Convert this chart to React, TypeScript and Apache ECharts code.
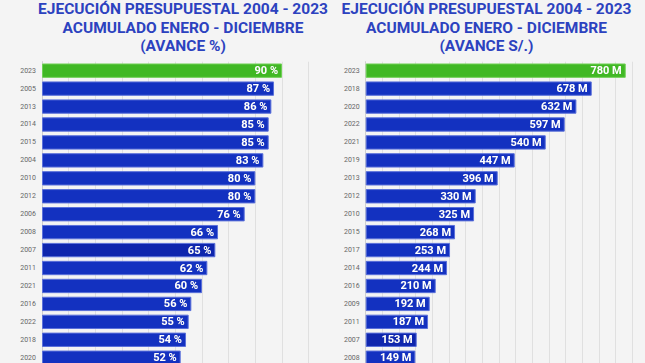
import React, { useEffect, useRef } from "react";
import * as echarts from "echarts";

const pctYears = ["2023", "2005", "2013", "2014", "2015", "2004", "2010", "2012", "2006", "2008", "2007", "2011", "2021", "2016", "2022", "2018", "2020"];
const pctValues = [90, 87, 86, 85, 85, 83, 80, 80, 76, 66, 65, 62, 60, 56, 55, 54, 52];

const amtYears = ["2023", "2018", "2020", "2022", "2021", "2019", "2013", "2012", "2010", "2015", "2017", "2014", "2016", "2009", "2011", "2007", "2008"];
const amtValues = [780, 678, 632, 597, 540, 447, 396, 330, 325, 268, 253, 244, 210, 192, 187, 153, 149];

const leftTitle = ["EJECUCIÓN PRESUPUESTAL 2004 - 2023", "ACUMULADO ENERO - DICIEMBRE", "(AVANCE %)"];
const rightTitle = ["EJECUCIÓN PRESUPUESTAL 2004 - 2023", "ACUMULADO ENERO - DICIEMBRE", "(AVANCE S/.)"];

const GREEN = "#40b824";
const BLUE = "#1331c0";
const DARK_BLUE = "#0f26ad";
const TITLE_BLUE = "#2c42bf";
const FONT = "Roboto, 'Noto Sans', sans-serif";

function barData(years: string[], values: number[]) {
  return values.map((v, i) => ({
    value: v,
    itemStyle: {
      color: years[i] === "2023" ? GREEN : years[i] === "2007" ? DARK_BLUE : BLUE,
      borderColor: years[i] === "2023" ? "#6fd055" : "#5a70da",
    },
  }));
}

export default function App() {
  const ref = useRef<HTMLDivElement>(null);
  useEffect(() => {
    if (!ref.current) return;
    const chart = echarts.init(ref.current, undefined, { renderer: "svg" });
    const gridTop = 61.7;
    const gridH = 305;
    const titleLines = (lines: string[], cx: number) =>
      lines.map((t, i) => ({
        type: "text",
        x: cx,
        y: 9 + i * 18.6,
        style: {
          text: t,
          align: "center",
          verticalAlign: "middle",
          font: `bold 15.5px ${FONT}`,
          fill: TITLE_BLUE,
        },
      }));
    const catAxis = (years: string[], gridIndex: number) => ({
      type: "category",
      gridIndex,
      data: years,
      inverse: true,
      axisTick: { show: false },
      axisLine: { show: true, lineStyle: { color: "#cfcfcf", width: 1 } },
      axisLabel: { fontSize: 7, color: "#666", margin: 6, fontFamily: FONT },
    });
    const valAxis = (max: number, interval: number, gridIndex: number) => ({
      type: "value",
      gridIndex,
      min: 0,
      max,
      interval,
      axisLabel: { show: false },
      axisLine: { show: false },
      axisTick: { show: false },
      splitLine: { show: true, lineStyle: { color: "#e0e0e0", width: 1 } },
    });
    const labelStyle = (suffix: string) => ({
      show: true,
      position: "insideRight",
      distance: 4,
      formatter: (p: any) => `${p.value} ${suffix}`,
      color: "#fff",
      fontWeight: "bold",
      fontSize: 11,
      fontFamily: FONT,
      textShadowColor: "rgba(0,0,0,0.35)",
      textShadowBlur: 1,
    });
    chart.setOption({
      animation: false,
      backgroundColor: "#f4f4f4",
      graphic: [...titleLines(leftTitle, 183), ...titleLines(rightTitle, 486.5)],
      grid: [
        { left: 42, top: gridTop, width: 266.7, height: gridH },
        { left: 365.7, top: gridTop, width: 266.7, height: gridH },
      ],
      xAxis: [valAxis(100, 10, 0), valAxis(800, 50, 1)],
      yAxis: [catAxis(pctYears, 0), catAxis(amtYears, 1)],
      series: [
        {
          type: "bar",
          xAxisIndex: 0,
          yAxisIndex: 0,
          data: barData(pctYears, pctValues),
          barCategoryGap: "20%",
          itemStyle: { borderWidth: 1 },
          label: labelStyle("%"),
        },
        {
          type: "bar",
          xAxisIndex: 1,
          yAxisIndex: 1,
          data: barData(amtYears, amtValues),
          barCategoryGap: "20%",
          itemStyle: { borderWidth: 1 },
          label: labelStyle("M"),
        },
      ],
    });
    return () => chart.dispose();
  }, []);
  return (
    <div
      ref={ref}
      style={{ position: "fixed", left: 0, top: 0, width: 645, height: 370 }}
    />
  );
}
